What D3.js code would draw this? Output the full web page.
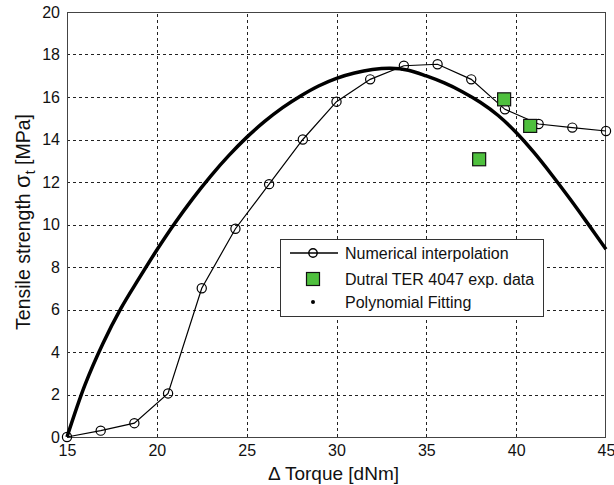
<!DOCTYPE html>
<html>
<head>
<meta charset="utf-8">
<script src="https://cdn.jsdelivr.net/npm/d3@7/dist/d3.min.js"></script>
<style>
  html, body { margin: 0; padding: 0; background: #fff; }
  svg { display: block; font-family: "Liberation Sans", Arial, sans-serif; }
</style>
</head>
<body>
<svg id="chart" width="614" height="485"></svg>
<script>
// Numerical interpolation (open circles joined by a thin line)
const interpTorque = [15, 16.875, 18.75, 20.625, 22.5, 24.375, 26.25, 28.125, 30,
                      31.875, 33.75, 35.625, 37.5, 39.375, 41.25, 43.125, 45];
const interpStrength = [0, 0.3, 0.65, 2.05, 7.0, 9.8, 11.9, 14.0, 15.78,
                        16.83, 17.47, 17.54, 16.83, 15.42, 14.73, 14.56, 14.4];

// Dutral TER 4047 experimental data
const expTorque = [37.94, 39.33, 40.78];
const expStrength = [13.07, 15.89, 14.64];

// Polynomial fitting, sampled once per dNm
const fitTorque = [15, 16, 17, 18, 19, 20, 21, 22, 23, 24, 25, 26, 27, 28, 29, 30,
                   31, 32, 33, 34, 35, 36, 37, 38, 39, 40, 41, 42, 43, 44, 45];
const fitStrength = [0, 2.45, 4.4, 6.05, 7.45, 8.8, 10.06, 11.22, 12.28, 13.24, 14.1, 14.85,
                     15.5, 16.05, 16.52, 16.88, 17.13, 17.29, 17.35, 17.26, 16.99, 16.66,
                     16.25, 15.75, 15.13, 14.33, 13.38, 12.32, 11.2, 10.03, 8.84];

const xTicks = [15, 20, 25, 30, 35, 40, 45];
const yTicks = [0, 2, 4, 6, 8, 10, 12, 14, 16, 18, 20];

const legendLabels = ["Numerical interpolation", "Dutral TER 4047 exp. data", "Polynomial Fitting"];

const svg = d3.select("#chart");
const margin = { left: 67, right: 8, top: 12, bottom: 48 };
const W = 614, H = 485;

const x = d3.scaleLinear().domain([15, 45]).range([margin.left, W - margin.right]);
const y = d3.scaleLinear().domain([0, 20]).range([H - margin.bottom, margin.top]);

const x0 = x.range()[0], x1 = x.range()[1];
const y0 = y.range()[0], y1 = y.range()[1];

// dashed grid
const grid = svg.append("g").attr("stroke", "#222").attr("stroke-width", 1)
  .attr("stroke-dasharray", "3,3");
grid.selectAll("line.gx").data(xTicks.slice(1, -1)).join("line")
  .attr("x1", d => Math.round(x(d)) + 0.5).attr("x2", d => Math.round(x(d)) + 0.5)
  .attr("y1", y0).attr("y2", y1);
grid.selectAll("line.gy").data(yTicks.slice(1, -1)).join("line")
  .attr("y1", d => Math.round(y(d)) + 0.5).attr("y2", d => Math.round(y(d)) + 0.5)
  .attr("x1", x0).attr("x2", x1);

// axes
const xAxis = d3.axisBottom(x).tickValues(xTicks).tickSize(0).tickPadding(8)
  .tickFormat(d3.format("d"));
const yAxis = d3.axisLeft(y).tickValues(yTicks).tickSize(0).tickPadding(7)
  .tickFormat(d3.format("d"));

const gx = svg.append("g").attr("transform", `translate(0,${y0})`).call(xAxis);
const gy = svg.append("g").attr("transform", `translate(${x0},0)`).call(yAxis);
[gx, gy].forEach(g => {
  g.select(".domain").remove();
  g.selectAll("text").attr("font-size", 16).attr("fill", "#111")
    .attr("font-family", "'Liberation Sans', Arial, sans-serif");
});

// frame
svg.append("rect").attr("x", x0 + 0.5).attr("y", y1 + 0.5)
  .attr("width", x1 - x0 - 1).attr("height", y0 - y1)
  .attr("fill", "none").attr("stroke", "#444").attr("stroke-width", 1);

// polynomial fitting (thick dense-dot line)
const fitLine = d3.line().x(d => x(d[0])).y(d => y(d[1])).curve(d3.curveCatmullRom);
svg.append("path")
  .datum(fitTorque.map((t, i) => [t, fitStrength[i]]))
  .attr("d", fitLine).attr("fill", "none").attr("stroke", "#000")
  .attr("stroke-width", 3.5).attr("stroke-linejoin", "round");

// numerical interpolation
const interpLine = d3.line().x(d => x(d[0])).y(d => y(d[1]));
const interp = interpTorque.map((t, i) => [t, interpStrength[i]]);
svg.append("path").datum(interp).attr("d", interpLine)
  .attr("fill", "none").attr("stroke", "#000").attr("stroke-width", 1.2);
svg.append("g").selectAll("circle").data(interp).join("circle")
  .attr("cx", d => x(d[0])).attr("cy", d => y(d[1])).attr("r", 4.6)
  .attr("fill", "none").attr("stroke", "#000").attr("stroke-width", 1.2);

// experimental squares
const sq = 13;
svg.append("g").selectAll("rect").data(expTorque.map((t, i) => [t, expStrength[i]])).join("rect")
  .attr("x", d => x(d[0]) - sq / 2).attr("y", d => y(d[1]) - sq / 2)
  .attr("width", sq).attr("height", sq)
  .attr("fill", "#4fc03e").attr("stroke", "#111").attr("stroke-width", 1.2);

// axis titles
svg.append("text").attr("x", (x0 + x1) / 2 - 3).attr("y", 480)
  .attr("text-anchor", "middle").attr("font-size", 19).attr("fill", "#111")
  .text("\u0394 Torque [dNm]");

const yt = svg.append("text")
  .attr("transform", "translate(30,222) rotate(-90)")
  .attr("text-anchor", "middle").attr("font-size", 19.5).attr("fill", "#111");
yt.append("tspan").text("Tensile strength ");
yt.append("tspan").attr("font-size", 22).text("\u03C3");
yt.append("tspan").attr("font-size", 14).attr("dy", 5).text("t");
yt.append("tspan").attr("dy", -5).text(" [MPa]");

// legend
const lg = svg.append("g").attr("transform", "translate(280,239)");
lg.append("rect").attr("x", 0.5).attr("y", 0.5).attr("width", 263).attr("height", 77)
  .attr("fill", "#fff").attr("stroke", "#333").attr("stroke-width", 1);
const rowY = [14, 40, 63];
lg.append("line").attr("x1", 10).attr("x2", 58).attr("y1", rowY[0]).attr("y2", rowY[0])
  .attr("stroke", "#000").attr("stroke-width", 1.6);
lg.append("circle").attr("cx", 33).attr("cy", rowY[0]).attr("r", 4.2)
  .attr("fill", "none").attr("stroke", "#000").attr("stroke-width", 1.4);
lg.append("rect").attr("x", 33 - 6.5).attr("y", rowY[1] - 6.5).attr("width", 13).attr("height", 13)
  .attr("fill", "#4fc03e").attr("stroke", "#111").attr("stroke-width", 1.2);
lg.append("circle").attr("cx", 33).attr("cy", rowY[2]).attr("r", 2).attr("fill", "#000");
lg.selectAll("text").data(legendLabels).join("text")
  .attr("x", 65).attr("y", (d, i) => rowY[i]).attr("dy", "0.36em")
  .attr("font-size", 16).attr("fill", "#111").text(d => d);
</script>
</body>
</html>
